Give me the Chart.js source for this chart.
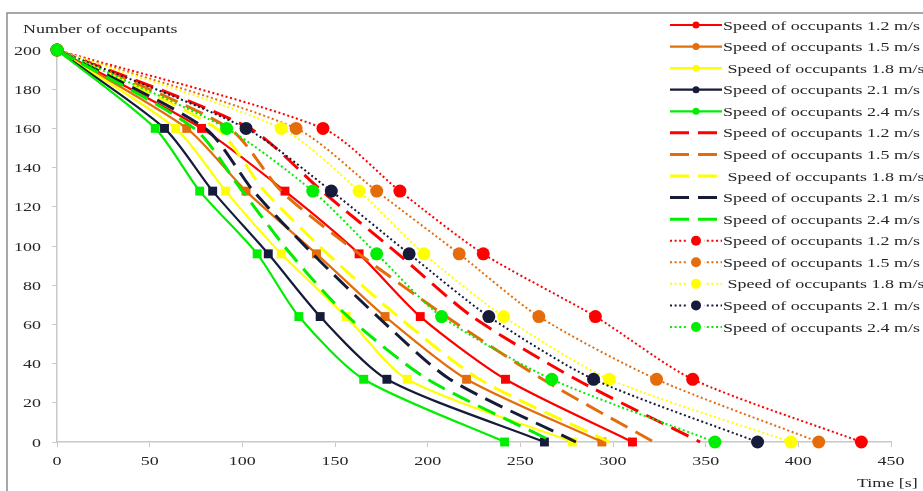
<!DOCTYPE html>
<html>
<head>
<meta charset="utf-8">
<script src="https://cdn.jsdelivr.net/npm/chart.js@4.4.1/dist/chart.umd.min.js"></script>
<style>
  html, body { margin: 0; padding: 0; background: #fff; }
  canvas { display: block; }
</style>
</head>
<body>
<canvas id="chart" width="923" height="491"></canvas>
<script>
// occupants remaining (y) at each recorded time
const occupants = [200, 160, 128, 96, 64, 32, 0];
const speeds    = ['1.2', '1.5', '1.8', '2.1', '2.4'];

// time [s] for each occupant level - solid lines (square markers)
const solid12 = [0, 78, 123, 163, 196, 242, 310.5];
const solid15 = [0, 70, 102, 140, 177, 221, 294];
const solid18 = [0, 64, 91, 121, 156, 189, 278];
const solid21 = [0, 58, 84, 114, 142, 178, 263];
const solid24 = [0, 53, 77, 108, 130.5, 165.5, 241.5];

// dashed lines (no markers)
const dashed12 = [0, 104, 143, 184, 224, 280, 347];
const dashed15 = [0, 93, 121, 163, 210, 262, 322];
const dashed18 = [0, 86, 112, 146, 184, 228, 298];
const dashed21 = [0, 80, 106, 138, 173, 212, 280];
const dashed24 = [0, 74, 100, 126, 157, 200, 268];

// dotted lines (circle markers)
const dotted12 = [0, 143.5, 185, 230, 290.5, 343, 434];
const dotted15 = [0, 129, 172.5, 217, 260, 323.5, 411];
const dotted18 = [0, 121, 163, 198, 241, 298, 396];
const dotted21 = [0, 102, 148, 190, 233, 289.5, 378];
const dotted24 = [0, 91.5, 138, 172.5, 207.5, 267, 355];

const xTicks = [0, 50, 100, 150, 200, 250, 300, 350, 400, 450];
const yTicks = [0, 20, 40, 60, 80, 100, 120, 140, 160, 180, 200];

const COLORS = ['#ff0000', '#e46c0a', '#ffff00', '#161b3a', '#00ee00'];
const FONT   = 'Liberation Serif, Times New Roman, serif';
const FSIZE  = 13.5;
const STRETCH = 1.33;   // text in the picture is drawn wide
const TEXT   = '#262626';

function toPoints(times) {
  return times.map((t, i) => ({ x: t, y: occupants[i] }));
}

const groups = [
  { kind: 'solid',  series: [solid12, solid15, solid18, solid21, solid24] },
  { kind: 'dashed', series: [dashed12, dashed15, dashed18, dashed21, dashed24] },
  { kind: 'dotted', series: [dotted12, dotted15, dotted18, dotted21, dotted24] },
];

const datasets = [];
groups.forEach(g => {
  g.series.forEach((times, i) => {
    const c = COLORS[i];
    const ds = {
      label: (speeds[i] === '1.8' ? ' ' : '') + 'Speed of occupants ' + speeds[i] + ' m/s',
      kind: g.kind,
      data: toPoints(times),
      showLine: true,
      borderColor: c,
      backgroundColor: c,
      pointBackgroundColor: c,
      pointBorderColor: c,
      pointBorderWidth: 0,
      tension: 0.25,
      clip: false,
    };
    if (g.kind === 'solid') {
      Object.assign(ds, { borderWidth: 2.2, pointStyle: 'rect', pointRadius: 6.3 });
    } else if (g.kind === 'dashed') {
      Object.assign(ds, { borderWidth: 3, borderDash: [19, 9], pointRadius: 0 });
    } else {
      Object.assign(ds, { borderWidth: 2, borderDash: [2, 2.6], pointStyle: 'circle', pointRadius: 6.5 });
    }
    datasets.push(ds);
  });
});
// later series on top, like the spreadsheet
datasets.forEach((ds, i) => { ds.order = datasets.length - i; });

function wideText(ctx, str, x, y, align) {
  ctx.save();
  ctx.translate(x, y);
  ctx.scale(STRETCH, 1);
  ctx.textAlign = align;
  ctx.fillText(str, 0, 0);
  ctx.restore();
}

const decor = {
  id: 'decor',
  beforeDraw(chart) {
    const ctx = chart.ctx;
    ctx.save();
    ctx.strokeStyle = '#8c8c8c';
    ctx.lineWidth = 1.5;
    ctx.beginPath();
    ctx.moveTo(7, 491);
    ctx.lineTo(7, 13);
    ctx.lineTo(923, 13);
    ctx.stroke();
    ctx.restore();
  },
  afterDraw(chart) {
    const ctx = chart.ctx;
    const xs = chart.scales.x, ys = chart.scales.y;
    ctx.save();
    ctx.fillStyle = TEXT;
    ctx.font = FSIZE + 'px ' + FONT;
    ctx.textBaseline = 'middle';
    yTicks.forEach(v => wideText(ctx, String(v), 41, ys.getPixelForValue(v) + 1, 'right'));
    xTicks.forEach(v => wideText(ctx, String(v), xs.getPixelForValue(v), 461, 'center'));
    ctx.textBaseline = 'alphabetic';
    wideText(ctx, 'Number of occupants', 23, 33, 'left');
    wideText(ctx, 'Time [s]', 857, 487, 'left');

    // legend
    const x0 = 670, x1 = 722, top = 25, step = 21.57;
    chart.data.datasets.forEach((ds, i) => {
      const y = top + i * step;
      ctx.save();
      ctx.strokeStyle = ds.borderColor;
      ctx.lineWidth = ds.borderWidth;
      ctx.setLineDash(ds.borderDash || []);
      ctx.beginPath();
      ctx.moveTo(x0, y);
      ctx.lineTo(x1, y);
      ctx.stroke();
      ctx.setLineDash([]);
      ctx.fillStyle = ds.backgroundColor;
      const cx = (x0 + x1) / 2;
      if (ds.kind === 'solid') {
        ctx.beginPath(); ctx.arc(cx, y, 3.5, 0, Math.PI * 2); ctx.fill();
      } else if (ds.kind === 'dotted') {
        ctx.fillStyle = '#fff';
        ctx.fillRect(cx - 8, y - 3, 16, 6);
        ctx.fillStyle = ds.backgroundColor;
        ctx.beginPath(); ctx.arc(cx, y, 5, 0, Math.PI * 2); ctx.fill();
      }
      ctx.restore();
      ctx.fillStyle = TEXT;
      ctx.textBaseline = 'middle';
      wideText(ctx, ds.label, 723, y + 1, 'left');
    });
    ctx.restore();
  }
};

const chart = new Chart(document.getElementById('chart'), {
  type: 'scatter',
  data: { datasets },
  options: {
    responsive: false,
    animation: false,
    devicePixelRatio: 1,
    layout: { padding: { left: 0, top: 50, right: 32, bottom: 0 } },
    plugins: { legend: { display: false }, tooltip: { enabled: false } },
    scales: {
      x: {
        type: 'linear', min: 0, max: 450,
        ticks: { display: false, stepSize: 50 },
        grid: { drawOnChartArea: false, drawTicks: true, tickLength: 5, color: '#c8c8c8' },
        border: { color: '#c8c8c8', width: 1.5 },
        afterFit: s => { s.height = 49; },
      },
      y: {
        type: 'linear', min: 0, max: 200,
        ticks: { display: false, stepSize: 20 },
        grid: { drawOnChartArea: false, drawTicks: true, tickLength: 5, color: '#c8c8c8' },
        border: { color: '#c8c8c8', width: 1.5 },
        afterFit: s => { s.width = 57; },
      },
    },
  },
  plugins: [decor],
});
</script>
</body>
</html>
